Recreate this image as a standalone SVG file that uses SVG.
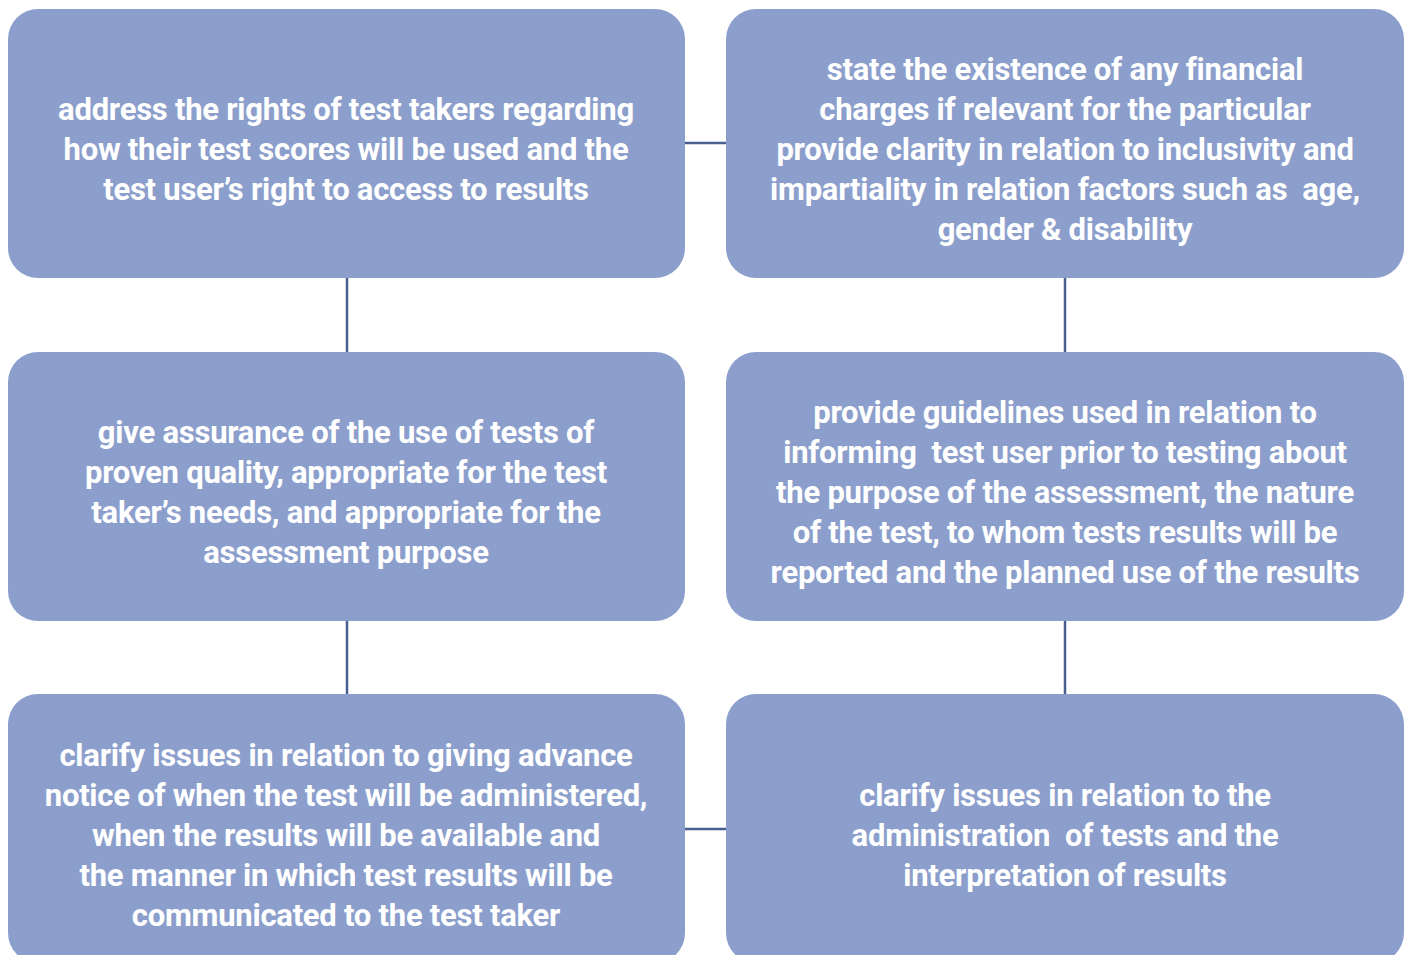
<svg xmlns="http://www.w3.org/2000/svg" width="1408" height="955" viewBox="0 0 1408 955">
<style>
.box{fill:#8c9fcc}
.t{font-family:Roboto,"Liberation Sans",sans-serif;font-weight:bold;font-size:31px;letter-spacing:-0.25px;fill:#ffffff;text-anchor:middle;white-space:pre}
.c{stroke:#4a5f91;stroke-width:2.5;fill:none}
</style>
<rect width="1408" height="955" fill="#ffffff"/>
<g id="connectors">
<line class="c" x1="685" y1="143" x2="726" y2="143"/>
<line class="c" x1="347" y1="278" x2="347" y2="352"/>
<line class="c" x1="1065" y1="278" x2="1065" y2="352"/>
<line class="c" x1="347" y1="621" x2="347" y2="694"/>
<line class="c" x1="1065" y1="621" x2="1065" y2="694"/>
<line class="c" x1="685" y1="829" x2="726" y2="829"/>
</g>
<g id="n1">
<rect class="box" x="8" y="9" width="677" height="269" rx="30"/>
<text class="t" xml:space="preserve"><tspan x="346" y="120">address the rights of test takers regarding</tspan><tspan x="346" y="160">how their test scores will be used and the</tspan><tspan x="346" y="200">test user’s right to access to results</tspan></text>
</g>
<g id="n2">
<rect class="box" x="726" y="9" width="678" height="269" rx="30"/>
<text class="t" xml:space="preserve"><tspan x="1065" y="80">state the existence of any financial</tspan><tspan x="1065" y="120">charges if relevant for the particular</tspan><tspan x="1065" y="160">provide clarity in relation to inclusivity and</tspan><tspan x="1065" y="200">impartiality in relation factors such as  age,</tspan><tspan x="1065" y="240">gender &amp; disability</tspan></text>
</g>
<g id="n3">
<rect class="box" x="8" y="352" width="677" height="269" rx="30"/>
<text class="t" xml:space="preserve"><tspan x="346" y="443">give assurance of the use of tests of</tspan><tspan x="346" y="483">proven quality, appropriate for the test</tspan><tspan x="346" y="523">taker’s needs, and appropriate for the</tspan><tspan x="346" y="563">assessment purpose</tspan></text>
</g>
<g id="n4">
<rect class="box" x="726" y="352" width="678" height="269" rx="30"/>
<text class="t" xml:space="preserve"><tspan x="1065" y="423">provide guidelines used in relation to</tspan><tspan x="1065" y="463">informing  test user prior to testing about</tspan><tspan x="1065" y="503">the purpose of the assessment, the nature</tspan><tspan x="1065" y="543">of the test, to whom tests results will be</tspan><tspan x="1065" y="583">reported and the planned use of the results</tspan></text>
</g>
<g id="n5">
<rect class="box" x="8" y="694" width="677" height="269" rx="30"/>
<text class="t" xml:space="preserve"><tspan x="346" y="766">clarify issues in relation to giving advance</tspan><tspan x="346" y="806">notice of when the test will be administered,</tspan><tspan x="346" y="846">when the results will be available and</tspan><tspan x="346" y="886">the manner in which test results will be</tspan><tspan x="346" y="926">communicated to the test taker</tspan></text>
</g>
<g id="n6">
<rect class="box" x="726" y="694" width="678" height="269" rx="30"/>
<text class="t" xml:space="preserve"><tspan x="1065" y="806">clarify issues in relation to the</tspan><tspan x="1065" y="846">administration  of tests and the</tspan><tspan x="1065" y="886">interpretation of results</tspan></text>
</g>
</svg>
